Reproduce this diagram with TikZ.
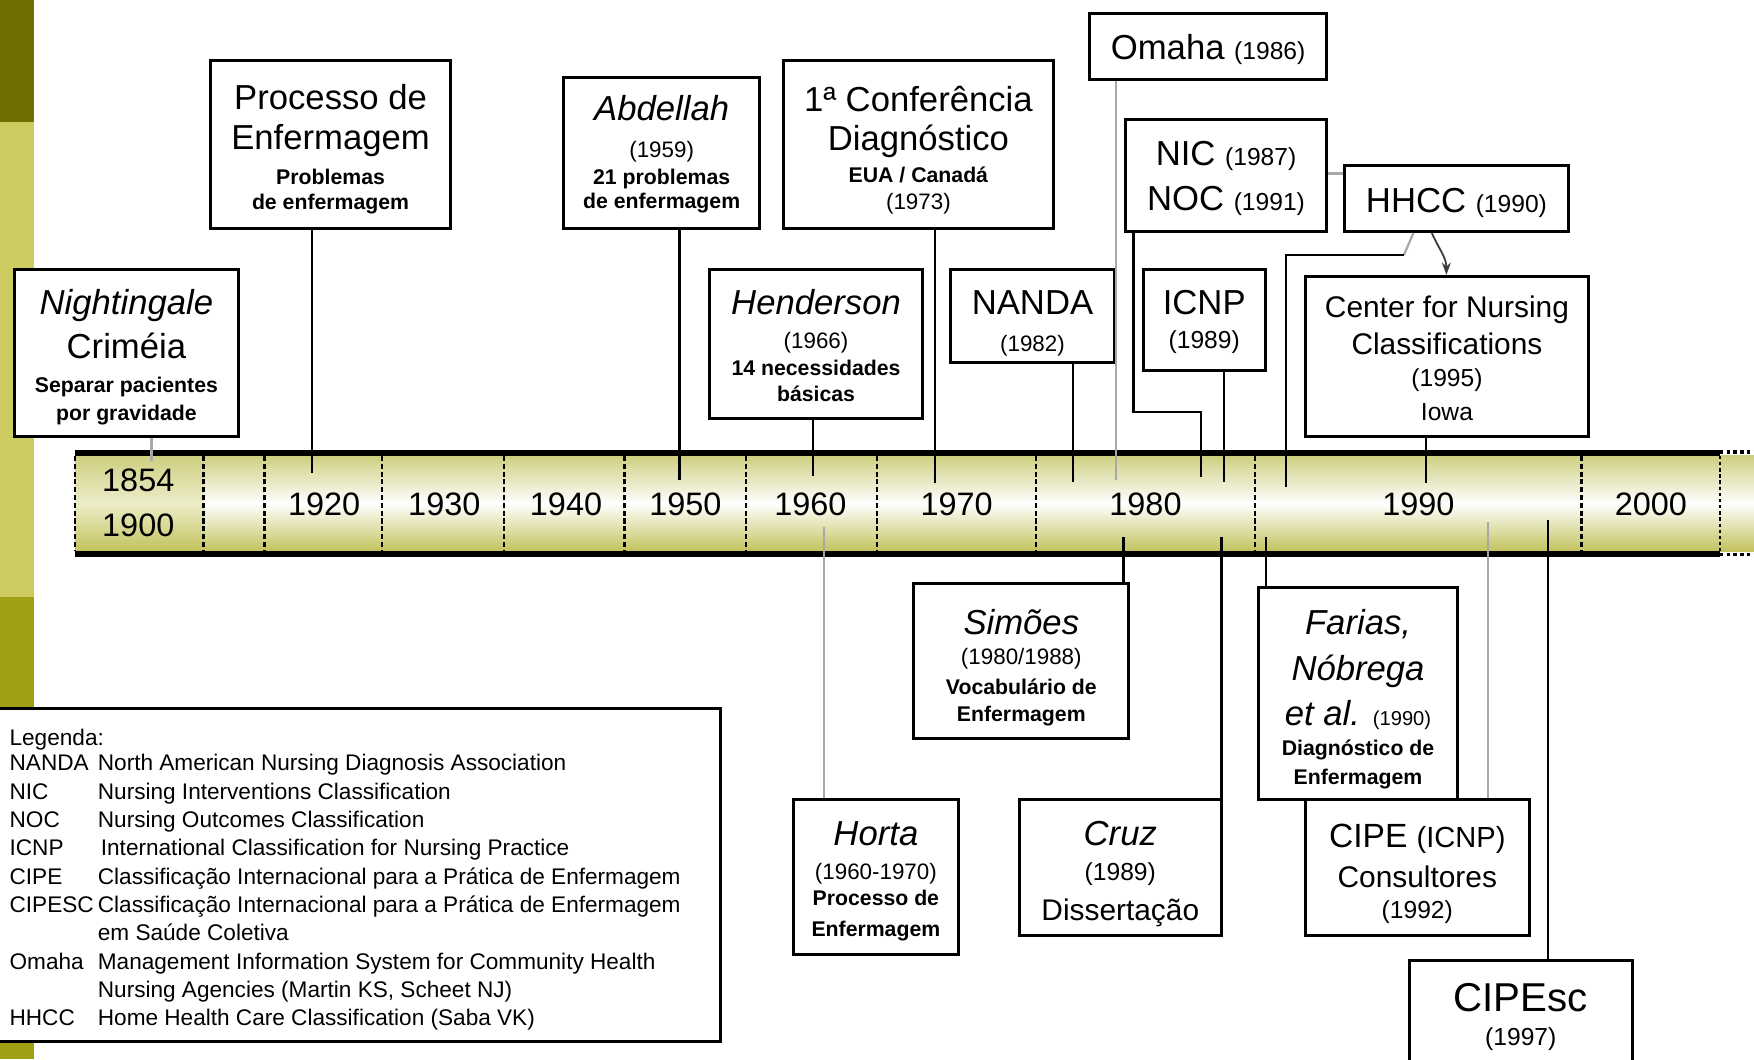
\documentclass[tikz,border=0pt]{standalone}
\usepackage{fontspec}
\setmainfont{Liberation Sans}
\usetikzlibrary{arrows.meta}
\definecolor{stripDark}{RGB}{112,112,0}
\definecolor{stripLight}{RGB}{204,204,96}
\definecolor{stripMid}{RGB}{160,160,20}
\definecolor{barTop}{RGB}{206,206,128}
\definecolor{barBot}{RGB}{194,194,92}
\definecolor{barMidA}{RGB}{236,236,200}
\definecolor{lineGray}{RGB}{168,168,168}
\definecolor{arrGray}{RGB}{60,60,60}
\tikzset{
  box/.style={draw=black, line width=2.6pt, fill=white, rectangle, inner sep=0pt},
  conn/.style={draw=black, line width=2.2pt},
  gconn/.style={draw=lineGray, line width=2pt},
  divider/.style={draw=black, line width=2.4pt, dash pattern=on 4.5pt off 2.5pt},
  tx/.style={inner sep=0pt, text depth=0pt, anchor=center},
  big/.style={tx, font=\fontsize{31}{31}\selectfont, text height=22.2pt},
  bigit/.style={tx, font=\fontsize{31}{31}\selectfont\itshape, text height=22.2pt},
  med/.style={tx, font=\fontsize{26.7}{27}\selectfont, text height=19.1pt},
  yrA/.style={tx, font=\fontsize{20}{20}\selectfont, text height=14.3pt},
  yrB/.style={tx, font=\fontsize{22}{22}\selectfont, text height=15.8pt},
  sb/.style={tx, font=\fontsize{19}{19}\selectfont\bfseries, text height=13.6pt},
  leg/.style={inner sep=0pt, anchor=base west, font=\fontsize{20.2}{20.2}\selectfont},
  yearlbl/.style={tx, font=\fontsize{29}{29}\selectfont, text height=20.8pt},
  arr/.style={draw=arrGray, line width=1.6pt, -{Stealth[length=11pt,width=8pt]}},
}
\begin{document}
\begin{tikzpicture}[x=1pt,y=-1pt]
\useasboundingbox (0,0) rectangle (1568,947);
\clip (0,0) rectangle (1568,947);
\fill[white] (0,0) rectangle (1568,947);
% left strip
\fill[stripDark] (0,0) rectangle (30,109);
\fill[stripLight] (0,109) rectangle (30,533.4);
\fill[stripMid] (0,533.4) rectangle (30,947);
% timeline bar
\shade[top color=barTop, bottom color=barBot, middle color=white] (182,407) rectangle (1568,493);
\shade[top color=barTop, bottom color=barBot, middle color=barMidA] (67,407) rectangle (182,493);
\draw[line width=5.5pt] (67,404.7) -- (1537.6,404.7);
\draw[line width=5.5pt] (67,495) -- (1537.6,495);
\draw[line width=3pt, dash pattern=on 3pt off 3pt] (1537.6,404.2) -- (1568,404.2);
\draw[line width=3pt, dash pattern=on 3pt off 3pt] (1537.6,495.5) -- (1568,495.5);
\foreach \x in {67,182,236.5,341.5,450.5,558,667,784,926,1122,1414}
  \draw[divider] (\x,407.5) -- (\x,492.3);
\draw[draw=black, line width=2.4pt, dash pattern=on 3pt off 2.5pt] (1537.6,407.5) -- (1537.6,492.3);
% year labels
\node[yearlbl] (y1854) at (123.6,429) {1854};
\node[yearlbl] (y1900) at (123.6,469.3) {1900};
\node[yearlbl] (y1920) at (289.8,450) {1920};
\node[yearlbl] (y1930) at (397.2,450) {1930};
\node[yearlbl] (y1940) at (506,450) {1940};
\node[yearlbl] (y1950) at (612.7,450) {1950};
\node[yearlbl] (y1960) at (724.4,450) {1960};
\node[yearlbl] (y1970) at (855.2,450) {1970};
\node[yearlbl] (y1980) at (1024,450) {1980};
\node[yearlbl] (y1990) at (1268,450) {1990};
\node[yearlbl] (y2000) at (1475.8,450) {2000};
% boxes
\node[box, minimum width=200pt, minimum height=149pt] (night) at (113,315.5) {};
\node[box, minimum width=215pt, minimum height=150pt] (proc) at (295.5,129) {};
\node[box, minimum width=175pt, minimum height=135pt] (abd) at (591.5,136.5) {};
\node[box, minimum width=242pt, minimum height=150pt] (conf) at (821,129) {};
\node[box, minimum width=191pt, minimum height=133pt] (hend) at (729.5,307.5) {};
\node[box, minimum width=146pt, minimum height=83pt] (nanda) at (923,282.5) {};
\node[box, minimum width=212pt, minimum height=59pt] (omaha) at (1080,41.5) {};
\node[box, minimum width=180pt, minimum height=100pt] (nicnoc) at (1096,157) {};
\node[box, minimum width=200pt, minimum height=59pt] (hhcc) at (1302,177.5) {};
\node[box, minimum width=109pt, minimum height=90pt] (icnp) at (1076.5,286) {};
\node[box, minimum width=253pt, minimum height=143pt] (cnc) at (1293.5,318.5) {};
\node[box, minimum width=192pt, minimum height=138pt] (simoes) at (913,591) {};
\node[box, minimum width=148pt, minimum height=138pt] (horta) at (783,784) {};
\node[box, minimum width=181pt, minimum height=121pt] (cruz) at (1001.5,775.5) {};
\node[box, minimum width=178pt, minimum height=190pt] (farias) at (1214,620) {};
\node[box, minimum width=200pt, minimum height=121pt] (cipe) at (1267,775.5) {};
\node[box, minimum width=199pt, minimum height=106pt] (cipesc) at (1359.5,912) {};
\node[box, line width=2.8pt, minimum width=647pt, minimum height=298pt] (legend) at (320.5,782) {};
% connector end points
\coordinate (b-night) at (135.5,412);
\coordinate (b-proc) at (278.8,423);
\coordinate (b-abd) at (607.3,429);
\coordinate (b-hend) at (727,425.6);
\coordinate (b-conf) at (835.8,431.5);
\coordinate (b-nanda) at (959,430.6);
\coordinate (b-omaha) at (997.7,429);
\coordinate (k-nic) at (1013.2,368.5);
\coordinate (b-nic) at (1073.5,426);
\coordinate (b-icnp) at (1094,430.6);
\coordinate (s-hhcc) at (1263.5,0);
\coordinate (k-hhcc) at (1255,228);
\coordinate (b-hhcc) at (1149.4,435);
\coordinate (h-link) at (0,155);
\coordinate (b-cnc) at (1275,432);
\coordinate (a-s) at (1280,0);
\coordinate (a-e) at (1293,0);
\coordinate (b-horta) at (736.5,471);
\coordinate (b-simoes) at (1004.2,480);
\coordinate (b-cruz) at (1091.8,480);
\coordinate (b-farias) at (1131.5,480);
\coordinate (b-cipe) at (1330,467);
\coordinate (b-cipesc) at (1384,465);
% connectors above the bar
\draw[gconn] (night.south -| b-night) -- (b-night);
\draw[conn] (proc.south -| b-proc) -- (b-proc);
\draw[conn] (abd.south -| b-abd) -- (b-abd);
\draw[conn] (hend.south -| b-hend) -- (b-hend);
\draw[conn] (conf.south -| b-conf) -- (b-conf);
\draw[conn] (nanda.south -| b-nanda) -- (b-nanda);
\draw[gconn] (omaha.south -| b-omaha) -- (b-omaha);
\draw[conn] (nicnoc.south -| k-nic) -- (k-nic) -- (k-nic -| b-nic) -- (b-nic);
\draw[conn] (icnp.south -| b-icnp) -- (b-icnp);
\draw[gconn] (hhcc.south -| s-hhcc) -- (k-hhcc);
\draw[conn] (k-hhcc) -- (k-hhcc -| b-hhcc) -- (b-hhcc);
\draw[gconn] (nicnoc.east |- h-link) -- (hhcc.west |- h-link);
\draw[conn] (cnc.south -| b-cnc) -- (b-cnc);
\draw[arr] (hhcc.south -| a-s) .. controls +(6,14) and +(0,-16) .. (cnc.north -| a-e);
% connectors below the bar
\draw[gconn] (b-horta) -- (horta.north -| b-horta);
\draw[conn] (b-simoes) -- (simoes.north -| b-simoes);
\draw[conn] (b-cruz) -- (cruz.north -| b-cruz);
\draw[conn] (b-farias) -- (farias.north -| b-farias);
\draw[gconn] (b-cipe) -- (cipe.north -| b-cipe);
\draw[conn] (b-cipesc) -- (cipesc.north -| b-cipesc);
% texts: Nightingale
\node[bigit] (tn1) at (113,269.7) {Nightingale};
\node[big] (tn2) at (113,309) {Criméia};
\node[sb] (tn3) at (113,344) {Separar pacientes};
\node[sb] (tn4) at (113,369) {por gravidade};
% Processo
\node[big] (tp1) at (295.5,86.4) {Processo de};
\node[big] (tp2) at (295.5,122.2) {Enfermagem};
\node[sb] (tp3) at (295.5,158) {Problemas};
\node[sb] (tp4) at (295.5,180.3) {de enfermagem};
% Abdellah
\node[bigit] (ta1) at (591.5,97) {Abdellah};
\node[yrA] (ta2) at (591.5,134) {(1959)};
\node[sb] (ta3) at (591.5,158) {21 problemas};
\node[sb] (ta4) at (591.5,180) {de enfermagem};
% Conferencia
\node[big] (tc1) at (821,89) {1ª Conferência};
\node[big] (tc2) at (821,123.7) {Diagnóstico};
\node[sb] (tc3) at (821,156.4) {EUA / Canadá};
\node[yrA] (tc4) at (821,180) {(1973)};
% Henderson
\node[bigit] (th1) at (729.5,269.7) {Henderson};
\node[yrA] (th2) at (729.5,304) {(1966)};
\node[sb] (th3) at (729.5,329) {14 necessidades};
\node[sb] (th4) at (729.5,352) {básicas};
% NANDA
\node[big] (tna1) at (923,269.7) {NANDA};
\node[yrA] (tna2) at (923,307) {(1982)};
% Omaha
\node[big] (to1) at (1080,41.7) {Omaha {\fontsize{22}{22}\selectfont(1986)}};
% NIC NOC
\node[big] (tnic) at (1096,137) {NIC {\fontsize{22}{22}\selectfont(1987)}};
\node[big] (tnoc) at (1096,177.3) {NOC {\fontsize{22}{22}\selectfont(1991)}};
% HHCC
\node[big] (thh) at (1302,178.8) {HHCC {\fontsize{22}{22}\selectfont(1990)}};
% ICNP
\node[big] (ti1) at (1076.5,269.7) {ICNP};
\node[yrB] (ti2) at (1076.5,304) {(1989)};
% Center for Nursing Classifications
\node[med] (tcn1) at (1293.5,274) {Center for Nursing};
\node[med] (tcn2) at (1293.5,307) {Classifications};
\node[yrB] (tcn3) at (1293.5,338) {(1995)};
\node[yrB] (tcn4) at (1293.5,368) {Iowa};
% Simoes
\node[bigit] (ts1) at (913,555.8) {Simões};
\node[yrA] (ts2) at (913,587) {(1980/1988)};
\node[sb] (ts3) at (913,614) {Vocabulário de};
\node[sb] (ts4) at (913,638) {Enfermagem};
% Horta
\node[bigit] (tho1) at (783,745) {Horta};
\node[yrA] (tho2) at (783,779) {(1960-1970)};
\node[sb] (tho3) at (783,803) {Processo de};
\node[sb] (tho4) at (783,830) {Enfermagem};
% Cruz
\node[bigit] (tcr1) at (1001.5,745) {Cruz};
\node[yrB] (tcr2) at (1001.5,779) {(1989)};
\node[med] (tcr3) at (1001.5,813.5) {Dissertação};
% Farias
\node[bigit] (tf1) at (1214,555.8) {Farias,};
\node[bigit] (tf2) at (1214,597.5) {Nóbrega};
\node[bigit] (tf3) at (1214,637.7) {et al. {\upshape\fontsize{18}{18}\selectfont(1990)}};
\node[sb] (tf4) at (1214,669) {Diagnóstico de};
\node[sb] (tf5) at (1214,694.3) {Enfermagem};
% CIPE
\node[tx, font=\fontsize{30}{30}\selectfont, text height=21.5pt] (tci1) at (1267,746.5) {CIPE {\fontsize{26}{26}\selectfont(ICNP)}};
\node[med] (tci2) at (1267,783.7) {Consultores};
\node[yrB] (tci3) at (1267,813.5) {(1992)};
% CIPEsc
\node[tx, font=\fontsize{36}{36}\selectfont, text height=25.8pt] (tcs1) at (1359.5,891) {CIPEsc};
\node[yrB] (tcs2) at (1359.5,926.8) {(1997)};
% legend
\node[leg] (lg0) at (8.4,666.2) {Legenda:};
\node[leg] (lg1a) at (8.4,689.2) {NANDA};
\node[leg] (lg1b) at (87.3,689.2) {North American Nursing Diagnosis Association};
\node[leg] (lg2a) at (8.4,714.5) {NIC};
\node[leg] (lg2b) at (87.3,714.5) {Nursing Interventions Classification};
\node[leg] (lg3a) at (8.4,739.8) {NOC};
\node[leg] (lg3b) at (87.3,739.8) {Nursing Outcomes Classification};
\node[leg] (lg4a) at (8.4,765.1) {ICNP};
\node[leg] (lg4b) at (90,765.1) {International Classification for Nursing Practice};
\node[leg] (lg5a) at (8.4,790.4) {CIPE};
\node[leg] (lg5b) at (87.3,790.4) {Classificação Internacional para a Prática de Enfermagem};
\node[leg] (lg6a) at (8.4,815.7) {CIPESC};
\node[leg] (lg6b) at (87.3,815.7) {Classificação Internacional para a Prática de Enfermagem};
\node[leg] (lg6c) at (87.3,841) {em Saúde Coletiva};
\node[leg] (lg7a) at (8.4,866.3) {Omaha};
\node[leg] (lg7b) at (87.3,866.3) {Management Information System for Community Health};
\node[leg] (lg7c) at (87.3,891.6) {Nursing Agencies (Martin KS, Scheet NJ)};
\node[leg] (lg8a) at (8.4,916.9) {HHCC};
\node[leg] (lg8b) at (87.3,916.9) {Home Health Care Classification (Saba VK)};
\end{tikzpicture}
\end{document}
